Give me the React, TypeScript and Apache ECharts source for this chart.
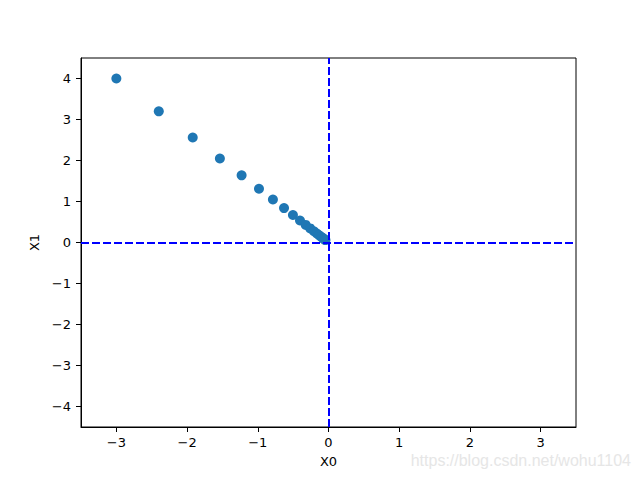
import React, { useEffect, useRef } from "react";
import * as echarts from "echarts";

const x0Values = [-3, -2.4, -1.92, -1.536, -1.2288, -0.983, -0.786, -0.629, -0.503, -0.403, -0.322, -0.258, -0.206, -0.165, -0.132, -0.106, -0.084, -0.068, -0.054, -0.043];
const x1Values = [4, 3.2, 2.56, 2.048, 1.638, 1.311, 1.049, 0.839, 0.671, 0.537, 0.429, 0.344, 0.275, 0.22, 0.176, 0.141, 0.113, 0.09, 0.072, 0.058];
const xTicks = [-3, -2, -1, 0, 1, 2, 3];
const yTicks = [-4, -3, -2, -1, 0, 1, 2, 3, 4];

const fmt = (v: number) => (v < 0 ? "\u2212" + Math.abs(v) : String(v));

export default function App() {
  const ref = useRef<HTMLDivElement>(null);
  useEffect(() => {
    const chart = echarts.init(ref.current!, null, { renderer: "svg" });
    const font = "DejaVu Sans";
    const axisCommon = {
      axisLine: { show: true, onZero: false, lineStyle: { color: "#000", width: 1 } },
      axisTick: { show: true, inside: false, length: 5, lineStyle: { color: "#000" } },
      splitLine: { show: false },
      nameTextStyle: { color: "#000", fontFamily: font, fontSize: 13 },
    };
    chart.setOption({
      animation: false,
      grid: { left: 81, right: 64, top: 58, bottom: 53, show: true, borderColor: "#000", borderWidth: 1, backgroundColor: "transparent" },
      xAxis: {
        type: "value",
        min: -3.5,
        max: 3.5,
        ...axisCommon,
        axisTick: { ...axisCommon.axisTick, customValues: xTicks },
        axisLabel: { customValues: xTicks, formatter: fmt, color: "#000", fontFamily: font, fontSize: 13, margin: 9 },
        name: "X0",
        nameLocation: "middle",
        nameGap: 28,
      },
      yAxis: {
        type: "value",
        min: -4.5,
        max: 4.5,
        ...axisCommon,
        axisTick: { ...axisCommon.axisTick, customValues: yTicks },
        axisLabel: { customValues: yTicks, formatter: fmt, color: "#000", fontFamily: font, fontSize: 13, margin: 10 },
        name: "X1",
        nameLocation: "middle",
        nameGap: 37,
        nameRotate: 90,
      },
      graphic: [
        {
          type: "text",
          right: 9,
          top: 452,
          style: { text: "https://blog.csdn.net/wohu1104", fill: "#e6e6e6", fontFamily: "Liberation Sans", fontSize: 16 },
        },
      ],
      series: [
        {
          type: "scatter",
          data: x0Values.map((x, i) => [x, x1Values[i]]),
          symbolSize: 10,
          itemStyle: { color: "#1f77b4", opacity: 1 },
          markLine: {
            silent: true,
            symbol: "none",
            label: { show: false },
            emphasis: { disabled: true },
            lineStyle: { color: "#0000ff", type: [8, 3], width: 2, opacity: 1 },
            data: [{ xAxis: 0 }, { yAxis: 0 }],
          },
          z: 3,
        },
      ],
    });
    return () => chart.dispose();
  }, []);
  return <div ref={ref} style={{ width: 640, height: 480, position: "absolute", left: 0, top: 0 }} />;
}
